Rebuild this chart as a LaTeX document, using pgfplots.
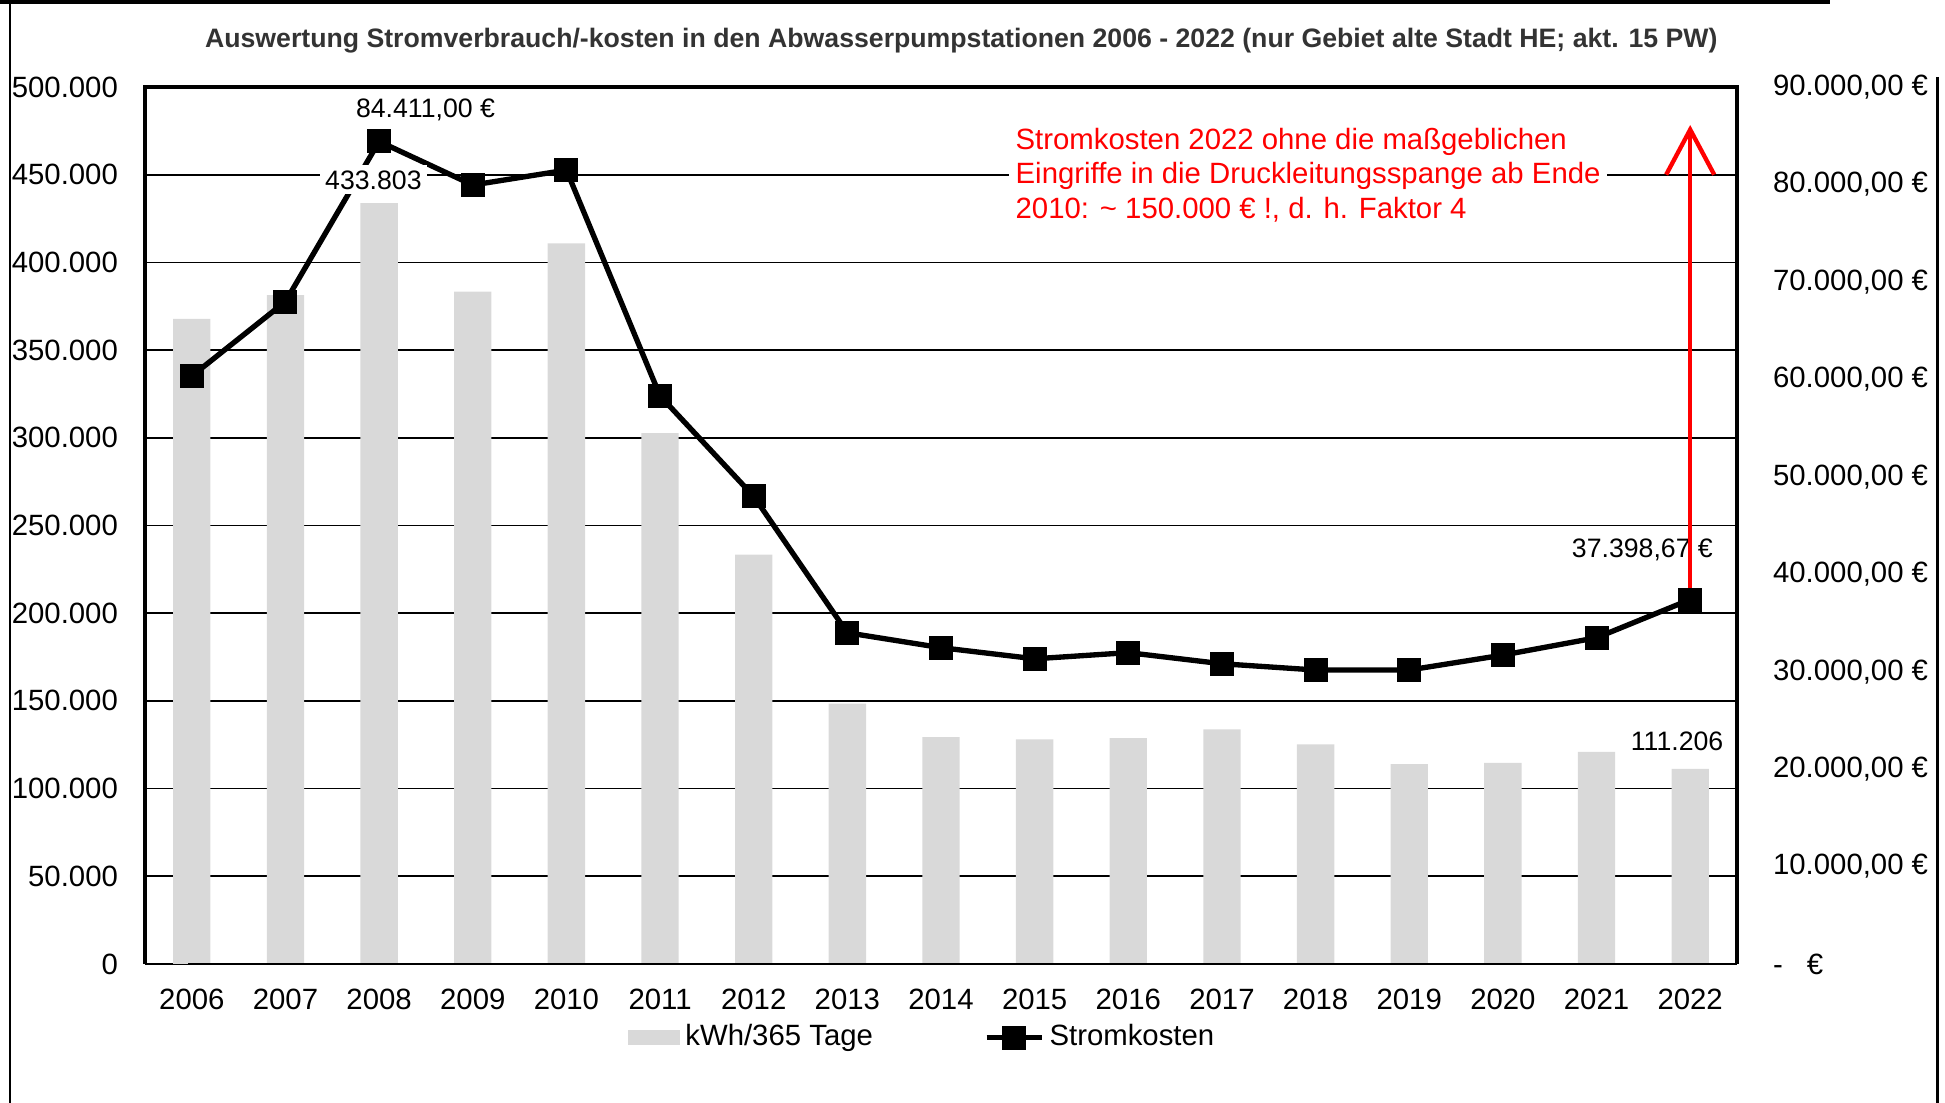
\documentclass[border=0pt]{standalone}
\usepackage{pgfplots}
\pgfplotsset{compat=1.18}
\usepackage{pgfplotstable}
\usepackage{fontspec}
\setmainfont{Liberation Sans}
\usetikzlibrary{arrows.meta}

\definecolor{bargray}{RGB}{217,217,217}
\definecolor{annred}{RGB}{255,0,0}

\pgfplotsset{
  mylinelegend/.style={legend image code/.code={\draw[mark repeat=2,mark phase=2,##1] plot coordinates {(0pt,0pt) (8.3pt,0pt) (16.6pt,0pt)};}},
  mybarlegend/.style={legend image code/.code={\fill[bargray] (0pt,-2pt) rectangle (15.4pt,2pt);}},
}

\pgfplotstableread{
idx kwh kosten
0 367800 60340
1 381400 67980
2 433803 84411
3 383300 79940
4 410900 81470
5 302700 58300
6 233400 47990
7 148500 33990
8 129400 32460
9 128000 31320
10 128700 31950
11 133700 30810
12 125200 30170
13 113900 30170
14 114600 31700
15 120900 33480
16 111206 37398.67
}\datatable

\begin{document}
\begin{tikzpicture}[x=1pt,y=1pt,font=\fontsize{8.8pt}{10.4pt}\selectfont]
\path[use as bounding box] (0,0) rectangle (583.5,330.9);
% outer frame fragments
\draw[line width=0.6pt] (3,0) -- (3,330.9);
\draw[line width=1.2pt] (0,330.3) -- (549,330.3);
\draw[line width=0.9pt] (581.1,307.8) -- (581.1,0);
% title
\node[font=\fontsize{8.0pt}{9.5pt}\selectfont\bfseries, text=black!80] at (288.4,318.6)
  {Auswertung Stromverbrauch/-kosten in den Abwasserpumpstationen 2006 - 2022 (nur Gebiet alte Stadt HE; akt. 15 PW)};

\begin{axis}[
  at={(43.5pt,41.7pt)}, anchor=south west,
  scale only axis, width=477.6pt, height=263.1pt,
  xmin=-0.5, xmax=16.5, ymin=0, ymax=500000,
  axis line style={draw=none},
  tick style={draw=none},
  scaled y ticks=false,
  xtick={0,...,16},
  xticklabels={2006,2007,2008,2009,2010,2011,2012,2013,2014,2015,2016,2017,2018,2019,2020,2021,2022},
  ytick={0,50000,...,500000},
  yticklabels={0,50.000,100.000,150.000,200.000,250.000,300.000,350.000,400.000,450.000,500.000},
  ymajorgrids,
  grid style={black, line width=0.5pt},
  xticklabel style={yshift=0.2pt},
  yticklabel style={xshift=-4.6pt},
  ybar, bar width=11.2pt,
]
\addplot[fill=bargray, draw=none] table[x=idx, y=kwh] {\datatable};
\end{axis}

\begin{axis}[
  at={(43.5pt,41.7pt)}, anchor=south west,
  scale only axis, width=477.6pt, height=263.1pt,
  xmin=-0.5, xmax=16.5, ymin=0, ymax=90000,
  axis line style={draw=none},
  tick style={draw=none},
  scaled y ticks=false,
  xtick=\empty,
  yticklabel pos=right,
  ytick={0,10000,...,90000},
  yticklabels={{-\hspace{7.2pt}€},{10.000,00 €},{20.000,00 €},{30.000,00 €},{40.000,00 €},{50.000,00 €},{60.000,00 €},{70.000,00 €},{80.000,00 €},{90.000,00 €}},
  yticklabel style={anchor=west, xshift=7.3pt},
  clip=false,
  legend style={at={(0.489,-0.084)}, anchor=center, draw=none, fill=none,
    legend columns=2, /tikz/every even column/.append style={column sep=31.8pt},
    nodes={inner sep=1.5pt}},
  legend cell align=left,
]
\addlegendimage{mybarlegend}
\addlegendentry{kWh/365 Tage}
\addplot[black, line width=1.6pt, mark=square*, mark size=3.3pt,
  mark options={rounded corners=0.8pt, line width=0.6pt}, mylinelegend]
  table[x=idx, y=kosten] {\datatable};
\addlegendentry{Stromkosten}
% data labels
\begin{scope}[font=\fontsize{8.0pt}{9.5pt}\selectfont]
\node at (axis cs:2.495,87600) {84.411,00 €};
\node[fill=white, inner sep=1.5pt] at (axis cs:1.939,80466) {433.803};
\node at (axis cs:15.49,42537) {37.398,67 €};
\node at (axis cs:15.86,22803) {111.206};
\end{scope}
% red arrow
\draw[annred, line width=1.3pt, -{Straight Barb[length=13.5pt,width=14.4pt,line width=1.3pt]}]
  (axis cs:16,38400) -- (axis cs:16,86100);
% frame
\draw[line width=0.6pt] (rel axis cs:0,0) ++(-1pt,0) -- (rel axis cs:1,0);
\draw[line width=1.2pt] (rel axis cs:0,0) -- (rel axis cs:0,1) -- (rel axis cs:1,1) -- (rel axis cs:1,0);
\end{axis}

% red annotation
\node[anchor=west, align=left, fill=white, text=annred, inner xsep=2pt, inner ysep=1pt] at (302.5,278.4)
  {Stromkosten 2022 ohne die maßgeblichen\\Eingriffe in die Druckleitungsspange ab Ende\\2010: \textasciitilde{} 150.000 € !, d. h. Faktor 4};
\end{tikzpicture}
\end{document}
